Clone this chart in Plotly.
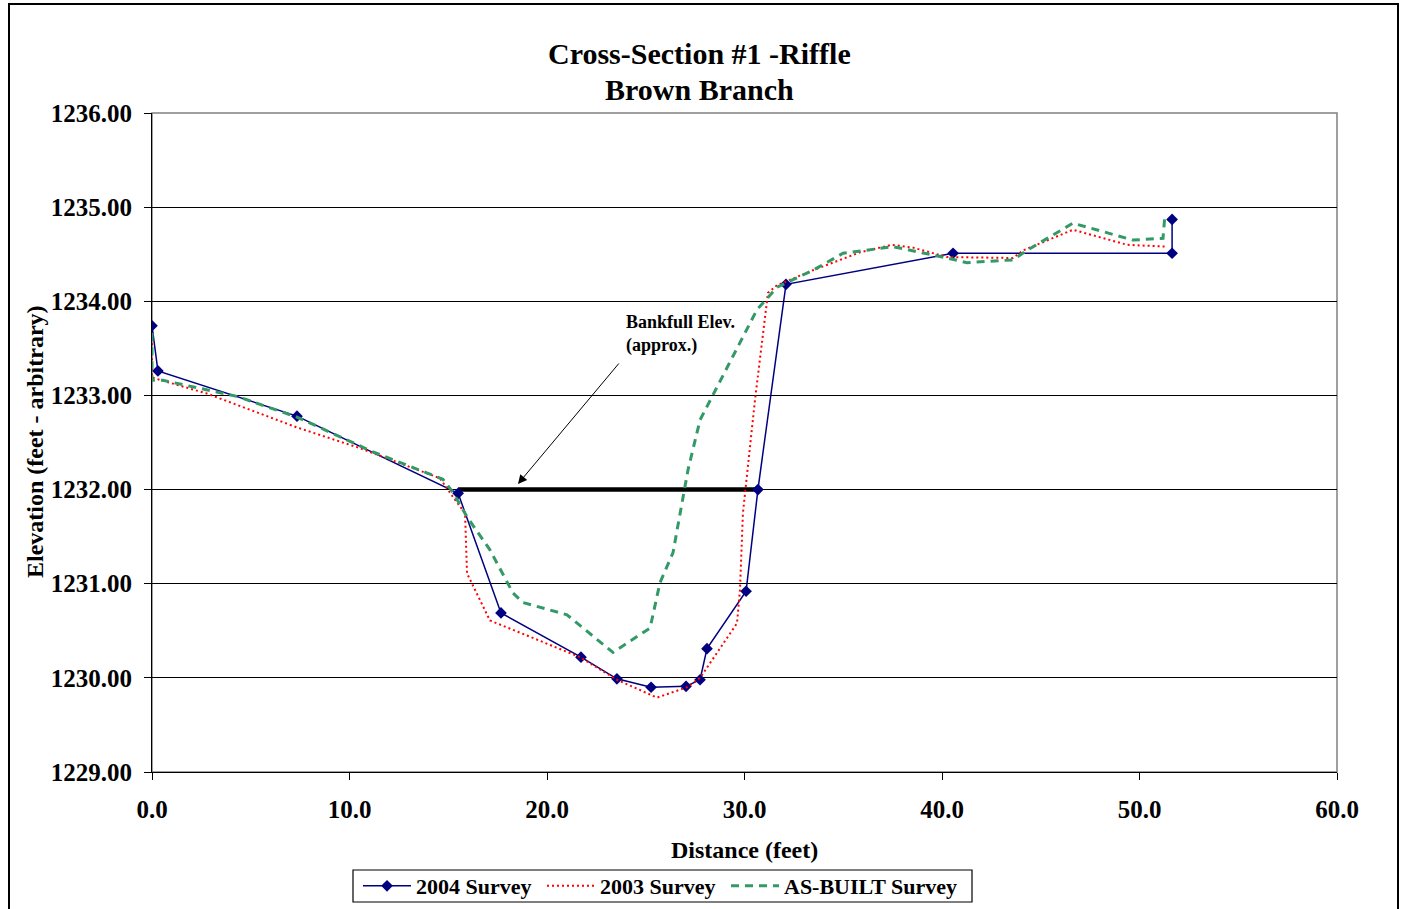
import plotly.graph_objects as go

# ---- data ----
x_2004 = [0.0, 0.3, 7.34, 15.5, 17.67, 21.72, 23.54, 25.27, 27.04, 27.75, 28.1, 30.08, 30.68, 32.1, 40.56, 51.65, 51.65]
y_2004 = [1233.74, 1233.26, 1232.78, 1231.96, 1230.69, 1230.22, 1229.99, 1229.90, 1229.91, 1229.98, 1230.31, 1230.92, 1232.00, 1234.18, 1234.51, 1234.51, 1234.87]

x_2003 = [0.0, 0.0, 2.78, 7.34, 10.53, 14.58, 15.24, 15.85, 15.95, 17.11, 21.67, 23.54, 25.57, 27.09, 27.75, 29.62, 29.77, 29.92, 30.53, 31.19, 31.65, 33.47, 35.85, 37.47, 38.53, 40.25, 43.59, 44.1, 46.63, 49.37, 51.39]
y_2003 = [1233.66, 1233.19, 1233.02, 1232.66, 1232.44, 1232.12, 1231.92, 1231.75, 1231.11, 1230.61, 1230.22, 1229.98, 1229.79, 1229.90, 1230.00, 1230.58, 1230.93, 1231.75, 1232.95, 1234.09, 1234.17, 1234.33, 1234.52, 1234.60, 1234.57, 1234.47, 1234.46, 1234.54, 1234.76, 1234.60, 1234.58]

x_asbuilt = [0.0, 0.0, 0.56, 4.3, 7.34, 11.19, 14.73, 15.24, 15.95, 17.11, 18.28, 18.78, 21.01, 23.34, 25.22, 25.72, 26.38, 27.14, 27.75, 28.61, 30.63, 31.65, 33.47, 34.99, 37.52, 40.25, 41.27, 43.59, 44.3, 46.63, 49.67, 51.19, 51.29]
y_asbuilt = [1233.66, 1233.16, 1233.16, 1232.99, 1232.77, 1232.40, 1232.11, 1231.97, 1231.71, 1231.36, 1230.90, 1230.80, 1230.67, 1230.27, 1230.53, 1231.01, 1231.33, 1232.21, 1232.74, 1233.09, 1233.91, 1234.15, 1234.33, 1234.51, 1234.58, 1234.46, 1234.41, 1234.44, 1234.54, 1234.83, 1234.65, 1234.67, 1234.92]

bankfull_x = [15.5, 30.68]
bankfull_y = [1232.0, 1232.0]

arrow_head = (18.53, 1232.06)
arrow_tail = (23.70, 1233.355)
label_pos = (23.9, 1233.65)

series_names = ["2004 Survey", "2003 Survey", "AS-BUILT Survey"]

FONT = "Liberation Serif, Times New Roman, serif"

def legend_label(s):
    return "<b>" + s + "</b>&nbsp;"

fig = go.Figure()

fig.add_trace(go.Scatter(
    x=bankfull_x, y=bankfull_y, mode="lines",
    line=dict(color="black", width=4.5), showlegend=False, hoverinfo="skip"))

fig.add_trace(go.Scatter(
    x=x_2004, y=y_2004, mode="lines+markers", name=legend_label(series_names[0]),
    line=dict(color="#000080", width=1.5),
    marker=dict(symbol="diamond", size=9, color="#000080")))

fig.add_trace(go.Scatter(
    x=x_2003, y=y_2003, mode="lines", name=legend_label(series_names[1]),
    line=dict(color="#FF0000", width=2, dash="2px,3px")))

fig.add_trace(go.Scatter(
    x=x_asbuilt, y=y_asbuilt, mode="lines", name=legend_label(series_names[2]),
    line=dict(color="#339966", width=3, dash="8px,6px")))

W, H = 1404, 909
L, R, T, B = 152, 67, 113, 137
pw, ph = W - L - R, H - T - B

def px_x(p):
    return (p - L) / pw

def px_y(p):
    return (H - B - p) / ph

annotations = [
    dict(text="<b>Cross-Section #1 -Riffle</b>", xref="paper", yref="paper",
         x=px_x(699), y=px_y(53), xanchor="center", yanchor="middle", showarrow=False,
         font=dict(family=FONT, size=30, color="black")),
    dict(text="<b>Brown Branch</b>", xref="paper", yref="paper",
         x=px_x(699), y=px_y(89), xanchor="center", yanchor="middle", showarrow=False,
         font=dict(family=FONT, size=30, color="black")),
    dict(text="<b>Elevation (feet - arbitrary)</b>", xref="paper", yref="paper",
         x=px_x(35), y=px_y(442), xanchor="center", yanchor="middle", showarrow=False,
         textangle=-90, font=dict(family=FONT, size=24, color="black")),
    dict(text="<b>Distance (feet)</b>", xref="paper", yref="paper",
         x=px_x(744), y=px_y(850), xanchor="center", yanchor="middle", showarrow=False,
         font=dict(family=FONT, size=24, color="black")),
    dict(text="<b>Bankfull Elev.<br>(approx.)</b>", xref="x", yref="y",
         x=label_pos[0], y=label_pos[1], xanchor="left", yanchor="middle", align="left",
         showarrow=False, font=dict(family=FONT, size=18, color="black")),
    dict(text="", xref="x", yref="y", x=arrow_head[0], y=arrow_head[1],
         axref="x", ayref="y", ax=arrow_tail[0], ay=arrow_tail[1],
         showarrow=True, arrowhead=2, arrowsize=1.8, arrowwidth=1, arrowcolor="black"),
]

shapes = [
    # plot-area frame (grey top/right)
    dict(type="rect", xref="paper", yref="paper", x0=0, x1=1, y0=0, y1=1,
         line=dict(color="#808080", width=1.5), layer="between"),
    # outer chart frame
    dict(type="rect", xref="paper", yref="paper", x0=px_x(9), x1=px_x(1398),
         y0=px_y(940), y1=px_y(4), line=dict(color="black", width=2), layer="above"),
    # legend box
    dict(type="rect", xref="paper", yref="paper", x0=px_x(353), x1=px_x(972),
         y0=px_y(902), y1=px_y(870), line=dict(color="black", width=1.2),
         fillcolor="white", layer="below"),
]

fig.update_layout(
    width=W, height=H,
    margin=dict(l=L, r=R, t=T, b=B),
    paper_bgcolor="white", plot_bgcolor="white",
    font=dict(family=FONT, color="black"),
    annotations=annotations, shapes=shapes,
    showlegend=True,
    legend=dict(orientation="h", xref="container", yref="container",
                x=663 / W, y=1 - 886 / H, xanchor="center", yanchor="middle",
                borderwidth=0, bgcolor="rgba(0,0,0,0)",
                font=dict(family=FONT, size=22, color="black"),
                itemwidth=48, tracegroupgap=0),
    xaxis=dict(range=[0, 60], dtick=10, tick0=0, tickformat=".1f",
               showgrid=False, zeroline=False, showline=True, linecolor="black", linewidth=1,
               ticks="outside", ticklen=7, tickcolor="black", ticklabelstandoff=8,
               tickfont=dict(family=FONT, size=25, color="black"),
               tickprefix="<b>", ticksuffix="</b>"),
    yaxis=dict(range=[1229, 1236], dtick=1, tick0=1229, tickformat=".2f",
               showgrid=True, gridcolor="#000000", gridwidth=1, zeroline=False,
               showline=True, linecolor="black", linewidth=1,
               ticks="outside", ticklen=7, tickcolor="black", ticklabelstandoff=7,
               tickfont=dict(family=FONT, size=25, color="black"),
               tickprefix="<b>", ticksuffix="</b>"),
)

fig.write_html("out.html", config={"displayModeBar": False},
               post_script="document.body.style.margin='0';")
